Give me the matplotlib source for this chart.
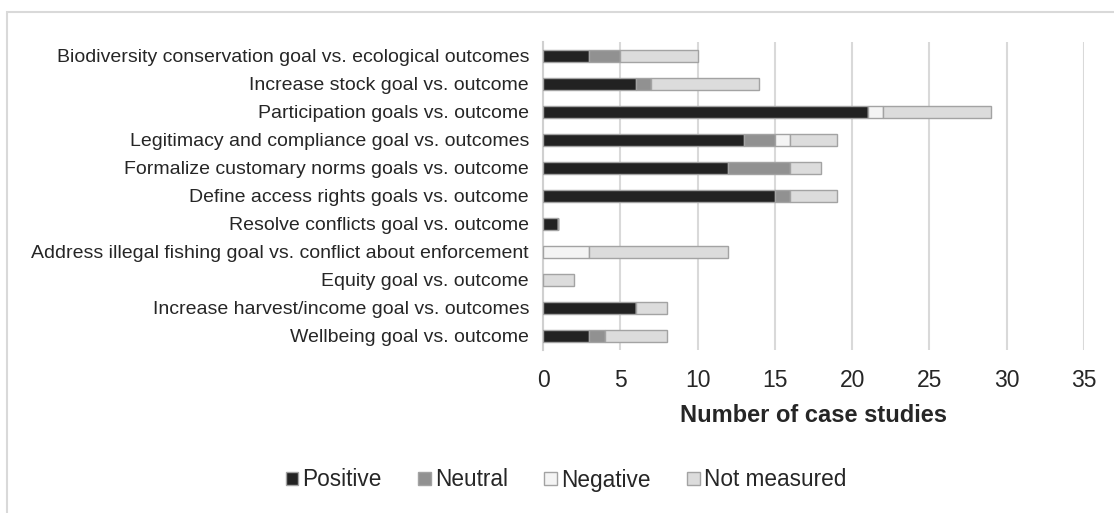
import numpy as np
import matplotlib.pyplot as plt
from matplotlib.patches import Rectangle

plt.rcParams['font.family'] = ['Liberation Sans', 'DejaVu Sans']

# categories from top to bottom
categories = [
    'Biodiversity conservation goal vs. ecological outcomes',
    'Increase stock goal vs. outcome',
    'Participation goals vs. outcome',
    'Legitimacy and compliance goal vs. outcomes',
    'Formalize customary norms goals vs. outcome',
    'Define access rights goals vs. outcome',
    'Resolve conflicts goal vs. outcome',
    'Address illegal fishing goal vs. conflict about enforcement',
    'Equity goal vs. outcome',
    'Increase harvest/income goal vs. outcomes',
    'Wellbeing goal vs. outcome',
]
positive = [3, 6, 21, 13, 12, 15, 1, 0, 0, 6, 3]
neutral = [2, 1, 0, 2, 4, 1, 0, 0, 0, 0, 1]
negative = [0, 0, 1, 1, 0, 0, 0, 3, 0, 0, 0]
not_measured = [5, 7, 7, 3, 2, 3, 0, 9, 2, 2, 4]

series = [
    ('Positive', positive, '#222222'),
    ('Neutral', neutral, '#919191'),
    ('Negative', negative, '#f4f4f4'),
    ('Not measured', not_measured, '#dcdcdc'),
]

fig = plt.figure(figsize=(11.14, 5.13), dpi=100)
# outer frame (only top and left edges visible)
fig.patches.append(Rectangle((7 / 1114, -0.1), 1.2, 0.1 + (513 - 12) / 513,
                             transform=fig.transFigure, fill=False,
                             edgecolor='#d9d9d9', linewidth=1.5))

ax = fig.add_axes([543 / 1114, 1 - 350 / 513, 541 / 1114, 308 / 513])

y = np.arange(len(categories))
left = np.zeros(len(categories))
handles = []
for name, vals, col in series:
    vals = np.array(vals, dtype=float)
    b = ax.barh(y, vals, left=left, height=0.45, color=col,
                edgecolor='#a3a3a3', linewidth=1.0, label=name, zorder=3)
    handles.append(b)
    left += vals

ax.set_xlim(0, 35)
ax.set_ylim(len(categories) - 0.5, -0.5)
ax.set_xticks(range(0, 36, 5))
ax.set_yticks(y)
ax.set_yticklabels(categories, fontsize=14.0, color='#262626')
ax.tick_params(axis='x', labelsize=16.5, colors='#262626', length=0, pad=14)
ax.tick_params(axis='y', length=0, pad=10)
ax.xaxis.grid(True, color='#d9d9d9', linewidth=1.5, zorder=0)
for s in ['top', 'right', 'bottom']:
    ax.spines[s].set_visible(False)
ax.spines['left'].set_color('#d0d0d0')
ax.spines['left'].set_linewidth(1.5)
ax.set_xlabel('Number of case studies', fontsize=17, fontweight='bold',
              color='#262626', labelpad=8)

fig.legend(handles=handles, loc='center', bbox_to_anchor=(566 / 1114, 1 - 480 / 513),
           ncol=4, frameon=False, fontsize=16.3, handlelength=0.55, handleheight=0.55,
           handletextpad=0.2, columnspacing=1.6, labelcolor='#262626')

fig.savefig('out.png', dpi=100)
